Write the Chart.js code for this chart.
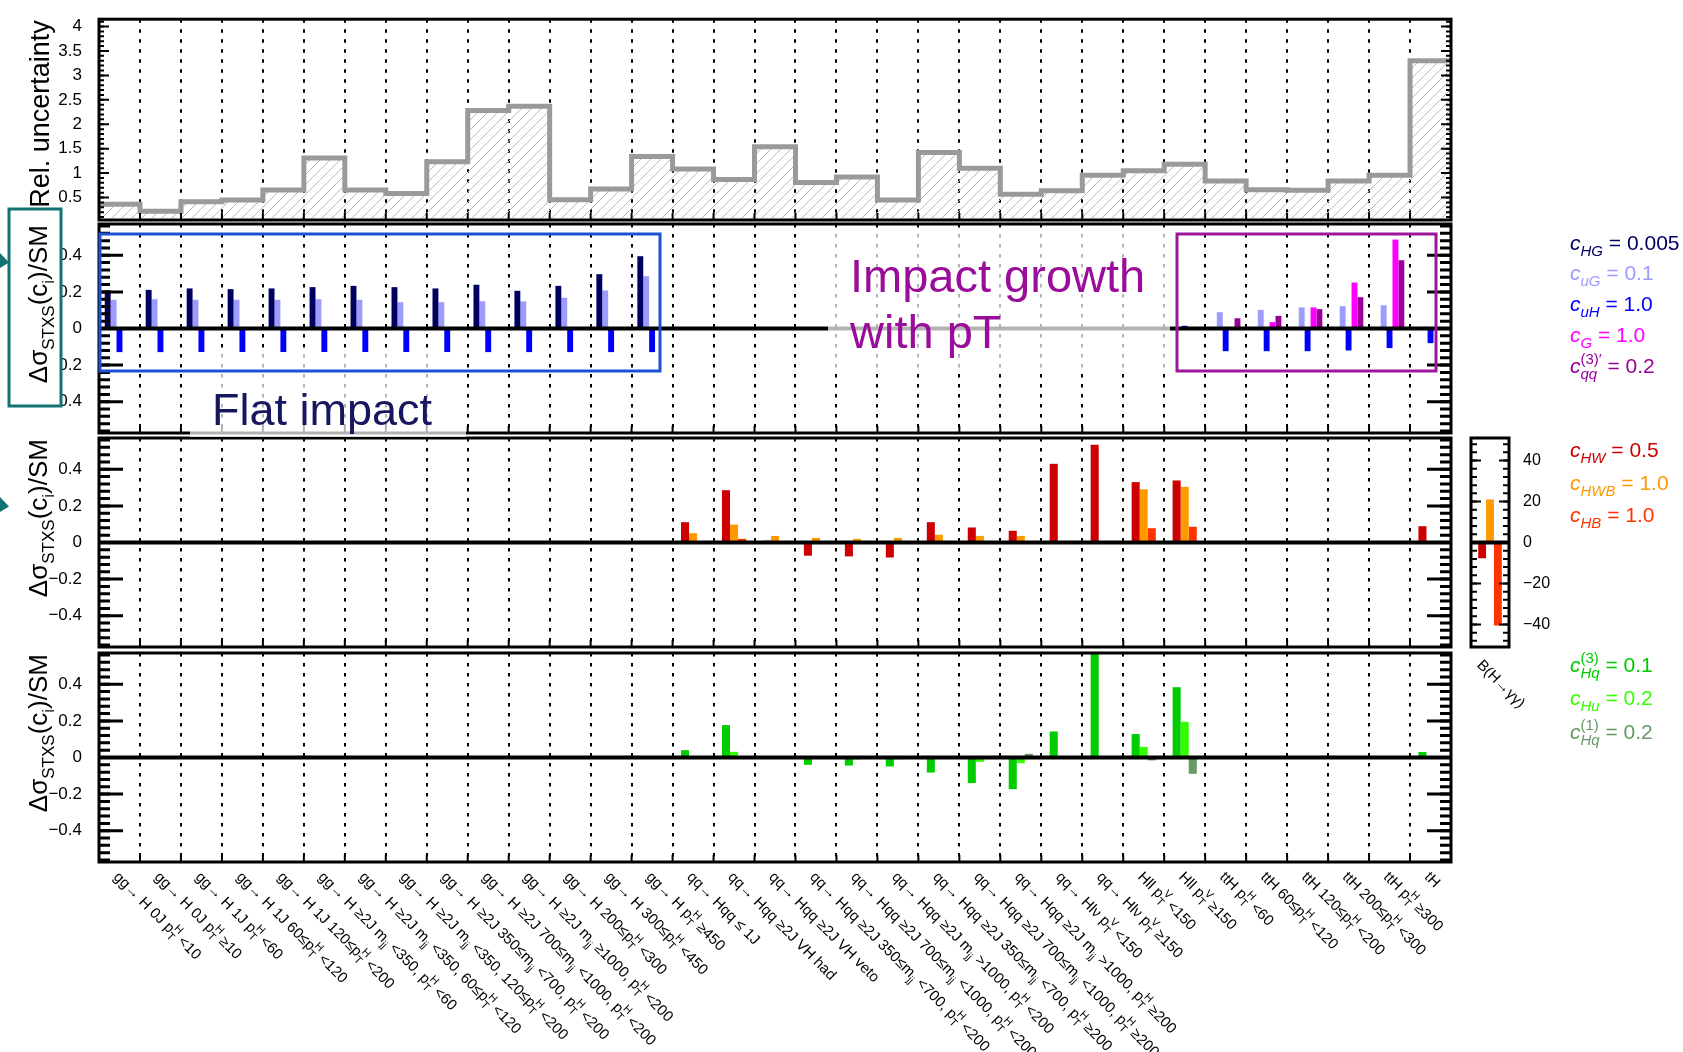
<!DOCTYPE html>
<html>
<head>
<meta charset="utf-8">
<title>STXS impact of SMEFT operators</title>
<script src="https://cdn.jsdelivr.net/npm/chart.js@4.4.1/dist/chart.umd.min.js"></script>
<style>
  html, body { margin: 0; padding: 0; background: #fff; }
  #page { position: relative; width: 1683px; height: 1052px; overflow: hidden; }
  #page canvas { position: absolute; left: 0; top: 0; }
</style>
</head>
<body>
<div id="page">
  <canvas id="relChart" width="1683" height="1052"></canvas>
  <canvas id="ggChart" width="1683" height="1052"></canvas>
  <canvas id="ewChart" width="1683" height="1052"></canvas>
  <canvas id="hqChart" width="1683" height="1052"></canvas>
  <canvas id="brChart" width="1683" height="1052"></canvas>
  <canvas id="notes" width="1683" height="1052"></canvas>
</div>
<script>
// STXS stage-1 bins (x axis)
const bins = [
  'gg→ H 0J p_{T}^{H} <10',
  'gg→ H 0J p_{T}^{H} ≥10',
  'gg→ H 1J p_{T}^{H} <60',
  'gg→ H 1J 60≤p_{T}^{H} <120',
  'gg→ H 1J 120≤p_{T}^{H} <200',
  'gg→ H ≥2J m_{jj} <350, p_{T}^{H} <60',
  'gg→ H ≥2J m_{jj} <350, 60≤p_{T}^{H} <120',
  'gg→ H ≥2J m_{jj} <350, 120≤p_{T}^{H} <200',
  'gg→ H ≥2J 350≤m_{jj} <700, p_{T}^{H} <200',
  'gg→ H ≥2J 700≤m_{jj} <1000, p_{T}^{H} <200',
  'gg→ H ≥2J m_{jj} ≥1000, p_{T}^{H} <200',
  'gg→ H 200≤p_{T}^{H} <300',
  'gg→ H 300≤p_{T}^{H} <450',
  'gg→ H p_{T}^{H} ≥450',
  'qq→ Hqq ≤ 1J',
  'qq→ Hqq ≥2J VH had',
  'qq→ Hqq ≥2J VH veto',
  'qq→ Hqq ≥2J 350≤m_{jj} <700, p_{T}^{H} <200',
  'qq→ Hqq ≥2J 700≤m_{jj} <1000, p_{T}^{H} <200',
  'qq→ Hqq ≥2J m_{jj} >1000, p_{T}^{H} <200',
  'qq→ Hqq ≥2J 350≤m_{jj} <700, p_{T}^{H} ≥200',
  'qq→ Hqq ≥2J 700≤m_{jj} <1000, p_{T}^{H} ≥200',
  'qq→ Hqq ≥2J m_{jj} >1000, p_{T}^{H} ≥200',
  'qq→ Hlν p_{T}^{V} <150',
  'qq→ Hlν p_{T}^{V} ≥150',
  'Hll p_{T}^{V} <150',
  'Hll p_{T}^{V} ≥150',
  'ttH p_{T}^{H} <60',
  'ttH 60≤p_{T}^{H} <120',
  'ttH 120≤p_{T}^{H} <200',
  'ttH 200≤p_{T}^{H} <300',
  'ttH p_{T}^{H} ≥300',
  'tH'
];

// relative uncertainty per bin
const relUnc = [0.36, 0.22, 0.415, 0.45, 0.655, 1.31, 0.655, 0.58, 1.23, 2.28, 2.37,
  0.455, 0.675, 1.34, 1.085, 0.87, 1.54, 0.805, 0.92, 0.45, 1.42, 1.10, 0.565,
  0.64, 0.955, 1.05, 1.18, 0.84, 0.66, 0.65, 0.84, 0.955, 3.30];

// gluon-fusion / top operators
const cHG = [0.208, 0.211, 0.219, 0.215, 0.219, 0.226, 0.233, 0.226, 0.219, 0.239, 0.206,
  0.233, 0.297, 0.395, 0, 0, 0, 0, 0, 0, 0, 0, 0, 0, 0, 0, 0, 0, 0, 0, 0, 0, 0];
const cuG = [0.157, 0.160, 0.157, 0.157, 0.157, 0.160, 0.157, 0.144, 0.144, 0.149, 0.148,
  0.168, 0.208, 0.286, 0, 0, 0, 0, 0, 0, 0, 0, 0, 0, 0, 0, 0, 0.089, 0.102, 0.115, 0.122, 0.127, 0.010];
const cuH = [-0.129, -0.129, -0.129, -0.129, -0.129, -0.129, -0.129, -0.129, -0.129, -0.129, -0.129,
  -0.129, -0.129, -0.129, 0, 0, 0, 0, 0, 0, 0, 0, 0, 0, 0, 0, 0.015, -0.124, -0.124, -0.124, -0.120, -0.107, -0.080];
const cG = [0, 0, 0, 0, 0, 0, 0, 0, 0, 0, 0, 0, 0, 0, 0, 0, 0, 0, 0, 0, 0, 0, 0, 0, 0, 0, 0,
  0, 0.035, 0.115, 0.251, 0.486, 0];
const cqq3 = [0, 0, 0, 0, 0, 0, 0, 0, 0, 0, 0, 0, 0, 0, 0, 0, 0, 0, 0, 0, 0, 0, 0, 0, 0, 0, 0,
  0.056, 0.069, 0.106, 0.171, 0.373, 0];

// electroweak boson operators
const cHW = [0, 0, 0, 0, 0, 0, 0, 0, 0, 0, 0, 0, 0, 0, 0.111, 0.286, 0.010, -0.072, -0.076, -0.082,
  0.111, 0.082, 0.064, 0.430, 0.534, 0.330, 0.339, 0, 0, 0, 0, 0, 0.089];
const cHWB = [0, 0, 0, 0, 0, 0, 0, 0, 0, 0, 0, 0, 0, 0, 0.051, 0.098, 0.036, 0.025, 0.020, 0.025,
  0.042, 0.036, 0.036, 0, 0, 0.291, 0.304, 0, 0, 0, 0, 0, 0];
const cHB = [0, 0, 0, 0, 0, 0, 0, 0, 0, 0, 0, 0, 0, 0, 0.003, 0.020, 0, 0, 0, 0,
  0, 0, 0, 0, 0, 0.078, 0.086, 0, 0, 0, 0, 0, 0];
// shift of B(H→γγ) in percent
const brLabels = ['B(H→γγ)'];
const brShift = [-7.7, 21, -40.5];

// quark-current operators
const cHq3 = [0, 0, 0, 0, 0, 0, 0, 0, 0, 0, 0, 0, 0, 0, 0.040, 0.177, -0.005, -0.040, -0.044, -0.049,
  -0.082, -0.140, -0.173, 0.142, 0.565, 0.128, 0.384, 0, 0, 0, 0, 0, 0.030];
const cHu = [0, 0, 0, 0, 0, 0, 0, 0, 0, 0, 0, 0, 0, 0, 0.005, 0.031, 0, -0.005, -0.010, -0.010,
  -0.005, -0.024, -0.031, 0, 0, 0.058, 0.195, 0, 0, 0, 0, 0, 0];
const cHq1 = [0, 0, 0, 0, 0, 0, 0, 0, 0, 0, 0, 0, 0, 0, 0, 0, 0, 0, 0, 0,
  0, 0, 0.020, 0, 0, -0.016, -0.089, 0, 0, 0, 0, 0, 0];

// tick labels
const relTicks = [0.5, 1, 1.5, 2, 2.5, 3, 3.5, 4];
const shiftTicks = [-0.4, -0.2, 0, 0.2, 0.4];
const brTicks = [-40, -20, 0, 20, 40];

const FONT = '"Liberation Sans", Arial, Helvetica, sans-serif';
const PLOT_L = 99, PLOT_R = 1451, W = 1683, H = 1052;

// text with ROOT-like _{sub} / ^{sup} markup
const RICH = /_\{([^}]*)\}\^\{([^}]*)\}|_\{([^}]*)\}|\^\{([^}]*)\}|[^_^]+/g;
function richText(ctx, str, x, y, o, dry) {
  const size = o.size, small = Math.round(size * (o.scriptScale || 0.7));
  let cx = x, n = 0, m;
  ctx.textAlign = 'left';
  RICH.lastIndex = 0;
  while ((m = RICH.exec(str))) {
    if (m[1] !== undefined || m[3] !== undefined || m[4] !== undefined) {
      const sub = m[1] !== undefined ? m[1] : m[3];
      const sup = m[1] !== undefined ? m[2] : m[4];
      let w = 0;
      if (sub) {
        ctx.font = (o.subItalic ? 'italic ' : '') + small + 'px ' + FONT;
        if (!dry) ctx.fillText(sub, cx, y + size * 0.28);
        w = ctx.measureText(sub).width;
      }
      if (sup) {
        ctx.font = small + 'px ' + FONT;
        if (!dry) ctx.fillText(sup, cx, y - size * 0.45);
        w = Math.max(w, ctx.measureText(sup).width);
      }
      cx += w;
    } else {
      ctx.font = (o.italicFirst && n === 0 ? 'italic ' : '') + size + 'px ' + FONT;
      if (!dry) ctx.fillText(m[0], cx, y);
      cx += ctx.measureText(m[0]).width;
      n++;
    }
  }
  return cx - x;
}

// frame, inner ticks, zero line and bin-edge ticks
const framePlugin = {
  id: 'frame',
  afterDatasetsDraw(chart, args, o) {
    const {ctx, chartArea: a, scales: {x, y}} = chart;
    ctx.save();
    ctx.strokeStyle = '#000';
    const mark = (v, len) => {
      const py = y.getPixelForValue(v);
      ctx.beginPath();
      ctx.moveTo(a.left, py); ctx.lineTo(a.left + len, py);
      ctx.moveTo(a.right, py); ctx.lineTo(a.right - len, py);
      ctx.stroke();
    };
    ctx.lineWidth = o.tickWidth;
    for (let k = Math.ceil(y.min / o.minor); k * o.minor <= y.max; k++) mark(k * o.minor, o.minorLen);
    y.ticks.forEach(t => mark(t.value, o.majorLen));
    if (o.edges) {
      ctx.lineWidth = 2;
      for (let i = 0; i <= o.edges; i++) {
        const px = x.getPixelForValue(i + o.edgeShift);
        ctx.beginPath(); ctx.moveTo(px, a.bottom); ctx.lineTo(px, a.bottom - 7); ctx.stroke();
      }
    }
    if (o.zero) {
      const py = y.getPixelForValue(0);
      ctx.lineWidth = 4;
      ctx.beginPath(); ctx.moveTo(a.left, py); ctx.lineTo(a.right, py); ctx.stroke();
    }
    ctx.lineWidth = 3;
    ctx.strokeRect(a.left, a.top, a.right - a.left, a.bottom - a.top);
    ctx.restore();
  }
};

// rotated y-axis title, ending at the top of the frame
const yTitlePlugin = {
  id: 'yTitle',
  afterDraw(chart, args, o) {
    if (!o.text) return;
    const ctx = chart.ctx;
    ctx.save();
    if (o.box) {
      const [x0, y0, x1, y1] = o.box;
      ctx.fillStyle = '#fff';
      ctx.fillRect(x0, y0, x1 - x0, y1 - y0);
      ctx.strokeStyle = '#137373';
      ctx.lineWidth = 3;
      ctx.strokeRect(x0, y0, x1 - x0, y1 - y0);
    }
    ctx.translate(o.x, chart.chartArea.top + 1);
    ctx.rotate(-Math.PI / 2);
    ctx.fillStyle = '#000';
    ctx.textBaseline = 'alphabetic';
    const opt = {size: o.size, scriptScale: 0.66};
    const w = richText(ctx, o.text, 0, 0, opt, true);
    richText(ctx, o.text, -w, 0, opt);
    ctx.restore();
  }
};

// coefficient keys to the right of the panels
const keyPlugin = {
  id: 'coefKey',
  afterDraw(chart, args, o) {
    if (!o.y) return;
    const ctx = chart.ctx;
    ctx.save();
    ctx.textBaseline = 'alphabetic';
    chart.data.datasets.forEach((ds, i) => {
      ctx.fillStyle = ds.backgroundColor;
      richText(ctx, ds.label, o.x, o.y[i], {size: 21, italicFirst: true, subItalic: true, scriptScale: 0.7});
    });
    ctx.restore();
  }
};

// slanted category labels under the frame
const binLabelPlugin = {
  id: 'binLabels',
  afterDraw(chart, args, o) {
    if (!o.size) return;
    const {ctx, scales: {x}} = chart;
    ctx.save();
    ctx.fillStyle = '#000';
    ctx.textBaseline = 'alphabetic';
    chart.data.labels.forEach((lab, i) => {
      ctx.save();
      ctx.translate(x.getPixelForValue(i) + o.dx, o.y);
      ctx.rotate(Math.PI / 4);
      richText(ctx, lab, 0, o.size * 0.35, {size: o.size, scriptScale: 0.72});
      ctx.restore();
    });
    ctx.restore();
  }
};

Chart.register(framePlugin, yTitlePlugin, keyPlugin, binLabelPlugin);
Chart.defaults.animation = false;
Chart.defaults.events = [];
Chart.defaults.responsive = false;
Chart.defaults.devicePixelRatio = 1;
Chart.defaults.plugins.legend.display = false;
Chart.defaults.plugins.tooltip.enabled = false;
Chart.defaults.font.family = FONT;
Chart.defaults.color = '#000';

const minusFmt = v => (v < 0 ? '−' + Math.abs(v) : String(v));
const setTicks = list => axis => { axis.ticks = list.map(v => ({value: v})); };

const dashedX = {
  grid: {color: '#000', lineWidth: 2, drawTicks: false},
  border: {display: false, dash: [3.5, 6.5]},
  ticks: {display: false},
  afterFit: s => { s.height = 0; }
};

// hatch used under the uncertainty histogram
function hatch() {
  const t = document.createElement('canvas');
  t.width = t.height = 10;
  const g = t.getContext('2d');
  g.strokeStyle = '#b8b8b8';
  g.lineWidth = 1;
  g.beginPath();
  g.moveTo(0, 10); g.lineTo(10, 0);
  g.moveTo(-5, 5); g.lineTo(5, -5);
  g.moveTo(5, 15); g.lineTo(15, 5);
  g.stroke();
  return g.createPattern(t, 'repeat');
}

// top panel: relative uncertainty, one flat step per bin
const relPoints = relUnc.map((v, i) => ({x: i, y: v})).concat([{x: relUnc.length, y: relUnc[relUnc.length - 1]}]);
new Chart('relChart', {
  type: 'line',
  data: {
    datasets: [{
      data: relPoints,
      stepped: 'before',
      borderColor: '#9a9a9a',
      borderWidth: 5,
      pointRadius: 0,
      fill: 'start',
      backgroundColor: hatch()
    }]
  },
  options: {
    layout: {padding: {left: 0, right: W - PLOT_R, top: 11, bottom: H - 220}},
    scales: {
      x: Object.assign({type: 'linear', min: 0, max: bins.length,
        afterBuildTicks: axis => { axis.ticks = bins.concat(['']).map((b, i) => ({value: i})); }}, dashedX),
      y: {
        min: 0.04, max: 4.15,
        afterBuildTicks: setTicks(relTicks),
        grid: {display: false}, border: {display: false},
        ticks: {font: {size: 17}, padding: 9, callback: v => String(v)},
        afterFit: s => { s.width = PLOT_L; }
      }
    },
    plugins: {
      frame: {minor: 0.1, minorLen: 5, majorLen: 10, tickWidth: 2, edges: bins.length, edgeShift: 0},
      yTitle: {text: 'Rel. uncertainty', x: 49, size: 27}
    }
  }
});

function barPanel(id, top, bottom, series, keyY, pct, extra) {
  return new Chart(id, {
    type: 'bar',
    data: {
      labels: bins,
      datasets: series.map(s => ({label: s.label, data: s.data, backgroundColor: s.color, borderWidth: 0}))
    },
    options: {
      layout: {padding: {left: 0, right: W - PLOT_R, top: top, bottom: H - bottom}},
      datasets: {bar: {categoryPercentage: pct, barPercentage: 1}},
      scales: {
        x: Object.assign({type: 'category'}, dashedX),
        y: {
          min: -0.571, max: 0.571,
          afterBuildTicks: setTicks(shiftTicks),
          grid: {display: false}, border: {display: false},
          ticks: {font: {size: 17}, padding: 9, callback: minusFmt},
          afterFit: s => { s.width = PLOT_L; }
        }
      },
      plugins: Object.assign({
        frame: {minor: 0.04, minorLen: 11, majorLen: 24, tickWidth: 3, zero: true, edges: bins.length, edgeShift: -0.5},
        yTitle: {text: 'Δσ_{STXS}(c_{i})/SM', x: 47, size: 26},
        coefKey: {x: 1570, y: keyY}
      }, extra || {})
    }
  });
}

const ewSeries = [
  {label: 'c_{HW} = 0.5', data: cHW, color: '#cc0000'},
  {label: 'c_{HWB} = 1.0', data: cHWB, color: '#ff9900'},
  {label: 'c_{HB} = 1.0', data: cHB, color: '#ff3300'}
];

barPanel('ggChart', 224, 433, [
  {label: 'c_{HG} = 0.005', data: cHG, color: '#000060'},
  {label: 'c_{uG} = 0.1', data: cuG, color: '#9c9cff'},
  {label: 'c_{uH} = 1.0', data: cuH, color: '#0000ff'},
  {label: 'c_{G} = 1.0', data: cG, color: '#ff00ff'},
  {label: 'c_{qq}^{(3)′} = 0.2', data: cqq3, color: '#990099'}
], [250, 280, 311, 342, 373], 0.72, {
  yTitle: {text: 'Δσ_{STXS}(c_{i})/SM', x: 47, size: 26, box: [9, 209, 61, 406]}
});

barPanel('ewChart', 438, 647, ewSeries, [457, 490, 522], 0.59);

barPanel('hqChart', 653, 862, [
  {label: 'c_{Hq}^{(3)} = 0.1', data: cHq3, color: '#00cc00'},
  {label: 'c_{Hu} = 0.2', data: cHu, color: '#33ff00'},
  {label: 'c_{Hq}^{(1)} = 0.2', data: cHq1, color: '#669966'}
], [672, 705, 739], 0.59, {
  binLabels: {size: 15, dx: -3, y: 874}
});

// branching-ratio inset next to the electroweak panel
new Chart('brChart', {
  type: 'bar',
  data: {
    labels: brLabels,
    datasets: ewSeries.map((s, i) => ({label: s.label, data: [brShift[i]], backgroundColor: s.color, borderWidth: 0}))
  },
  options: {
    layout: {padding: {left: 1471, right: W - 1509 - 50, top: 438, bottom: H - 647}},
    datasets: {bar: {categoryPercentage: 0.62, barPercentage: 1}},
    scales: {
      x: {type: 'category', grid: {display: false}, border: {display: false}, ticks: {display: false},
        afterFit: s => { s.height = 0; }},
      y: {
        position: 'right', min: -51, max: 51,
        afterBuildTicks: setTicks(brTicks),
        grid: {display: false}, border: {display: false},
        ticks: {font: {size: 16}, padding: 6, callback: minusFmt},
        afterFit: s => { s.width = 50; }
      }
    },
    plugins: {
      frame: {minor: 4, minorLen: 6, majorLen: 10, tickWidth: 2, zero: true},
      binLabels: {size: 15, dx: -10, y: 662}
    }
  }
});

// annotations on top of the panels
const notes = document.getElementById('notes').getContext('2d');
notes.fillStyle = 'rgba(255,255,255,0.7)';
notes.fillRect(190, 352, 276, 85);
notes.fillRect(828, 229, 342, 139);
notes.lineWidth = 3;
notes.strokeStyle = '#1f50d2';
notes.strokeRect(100, 234, 560, 137);
notes.strokeStyle = '#9b169b';
notes.strokeRect(1177, 234, 259, 137);
notes.textBaseline = 'alphabetic';
notes.font = '45px ' + FONT;
notes.fillStyle = '#17175f';
notes.fillText('Flat impact', 212, 425);
notes.font = '47px ' + FONT;
notes.fillStyle = '#9a0c9a';
notes.fillText('Impact growth', 850, 292);
notes.fillText('with pT', 850, 348);
notes.fillStyle = '#137373';
[[253, 268], [497, 512]].forEach(([a, b]) => {
  notes.beginPath();
  notes.moveTo(0, a); notes.lineTo(9, (a + b) / 2 + 2); notes.lineTo(0, b);
  notes.closePath(); notes.fill();
});
</script>
</body>
</html>
